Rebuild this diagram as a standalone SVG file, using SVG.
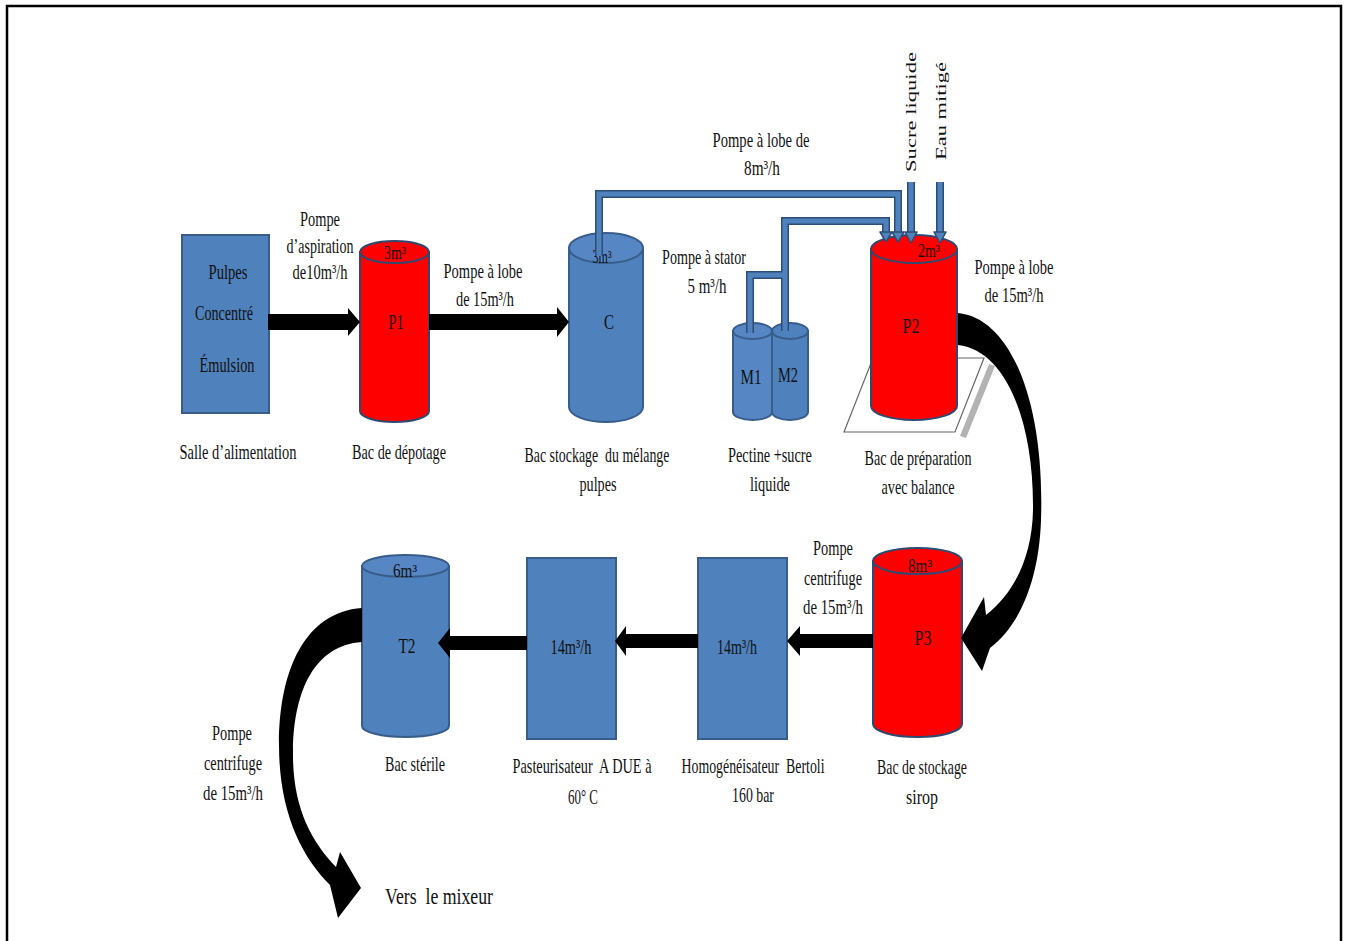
<svg xmlns="http://www.w3.org/2000/svg" width="1345" height="941" viewBox="0 0 1345 941">
<defs>
<style>
text { font-family: "Liberation Serif", "Times New Roman", serif; font-size: 21px; fill: #111; text-anchor: middle; }
.sm { font-size: 18px; }
.big { font-size: 23px; }
.blue { fill: #4f81bd; stroke: #385d8a; stroke-width: 2; }
.bluetop { fill: #5686c4; stroke: #385d8a; stroke-width: 2; }
.red { fill: #ff0000; stroke: #2e4a70; stroke-width: 2; }
.arrow { fill: #000; }
.pipe-o { fill: none; stroke: #2c4d75; stroke-width: 8; }
.pipe-i { fill: none; stroke: #4f81bd; stroke-width: 5; }
.phead { fill: #4f81bd; stroke: #2c4d75; stroke-width: 1.5; stroke-linejoin: round; }
</style>
</defs>
<rect x="0" y="0" width="1345" height="941" fill="#fff"/>
<rect x="7" y="6" width="1334" height="945" fill="none" stroke="#000" stroke-width="2.5"/>

<g id="salle">
<rect class="blue" x="182" y="235" width="87" height="178"/>
<text transform="matrix(0.65 0 0 1 228 279)" textLength="60" lengthAdjust="spacingAndGlyphs">Pulpes</text>
<text transform="matrix(0.65 0 0 1 224 320)" textLength="89.2" lengthAdjust="spacingAndGlyphs">Concentré</text>
<text transform="matrix(0.65 0 0 1 227 372)" textLength="84.6" lengthAdjust="spacingAndGlyphs">Émulsion</text>
<text transform="matrix(0.65 0 0 1 238 459)" textLength="180" lengthAdjust="spacingAndGlyphs">Salle d’alimentation</text>
</g>

<g id="P1">
<path class="red" d="M360 252 L360 411 A34.5 11 0 0 0 429 411 L429 252 Z"/>
<ellipse class="red" cx="394.5" cy="252" rx="34.5" ry="11"/>
<text class="sm" transform="matrix(0.65 0 0 1 395 259)" textLength="33.8" lengthAdjust="spacingAndGlyphs">3m³</text>
<text transform="matrix(0.65 0 0 1 396 329)" textLength="23" lengthAdjust="spacingAndGlyphs">P1</text>
<text transform="matrix(0.65 0 0 1 399 459)" textLength="144.6" lengthAdjust="spacingAndGlyphs">Bac de dépotage</text>
</g>

<g id="C">
<path class="blue" d="M569 248 L569 407 A37 15 0 0 0 643 407 L643 248 Z"/>
<ellipse class="bluetop" cx="606" cy="248" rx="37" ry="15"/>
<text class="sm" transform="matrix(0.65 0 0 1 602 263)" textLength="29.2" lengthAdjust="spacingAndGlyphs">3m³</text>
<text transform="matrix(0.65 0 0 1 609 329)" textLength="15.4" lengthAdjust="spacingAndGlyphs">C</text>
<text transform="matrix(0.65 0 0 1 597 462)" textLength="223" lengthAdjust="spacingAndGlyphs" xml:space="preserve">Bac stockage  du mélange</text>
<text transform="matrix(0.65 0 0 1 598 491)" textLength="57" lengthAdjust="spacingAndGlyphs">pulpes</text>
</g>

<g id="M2">
<path class="blue" d="M772 331 L772 412 A18 8 0 0 0 808 412 L808 331 Z"/>
<ellipse class="blue" cx="790" cy="331" rx="18" ry="8"/>
<text transform="matrix(0.65 0 0 1 788 382)" textLength="30.8" lengthAdjust="spacingAndGlyphs">M2</text>
</g>
<g id="M1">
<path class="bluetop" d="M733 331 L733 412 A19.5 8 0 0 0 772 412 L772 331 Z"/>
<ellipse class="bluetop" cx="752.5" cy="331" rx="19.5" ry="8"/>
<text transform="matrix(0.65 0 0 1 751 384)" textLength="32.3" lengthAdjust="spacingAndGlyphs">M1</text>
</g>
<g id="pectine-label">
<text transform="matrix(0.65 0 0 1 770 462)" textLength="129" lengthAdjust="spacingAndGlyphs">Pectine +sucre</text>
<text transform="matrix(0.65 0 0 1 770 491)" textLength="61.5" lengthAdjust="spacingAndGlyphs">liquide</text>
</g>

<g id="P2">
<polygon points="960,436 989,364 995,366 966,438" fill="#b3b3b3"/>
<polygon points="844,432 873,358 984,358 955,432" fill="#fff" stroke="#666" stroke-width="1.2"/>
<path class="red" d="M871 249 L871 406 A43 14 0 0 0 957 406 L957 249 Z"/>
<ellipse class="red" cx="914" cy="249" rx="43" ry="14"/>
<text class="sm" transform="matrix(0.65 0 0 1 929 257)" textLength="33.8" lengthAdjust="spacingAndGlyphs">2m³</text>
<text transform="matrix(0.65 0 0 1 911 333)" textLength="26.2" lengthAdjust="spacingAndGlyphs">P2</text>
<text transform="matrix(0.65 0 0 1 918 465)" textLength="164.6" lengthAdjust="spacingAndGlyphs">Bac de préparation</text>
<text transform="matrix(0.65 0 0 1 918 494)" textLength="112.3" lengthAdjust="spacingAndGlyphs">avec balance</text>
</g>

<g id="P3">
<path class="red" d="M873 561 L873 724 A44.5 13 0 0 0 962 724 L962 561 Z"/>
<ellipse class="red" cx="917.5" cy="561" rx="44.5" ry="13"/>
<text class="sm" transform="matrix(0.65 0 0 1 920 572)" textLength="37" lengthAdjust="spacingAndGlyphs">8m³</text>
<text transform="matrix(0.65 0 0 1 923 645)" textLength="26.2" lengthAdjust="spacingAndGlyphs">P3</text>
<text transform="matrix(0.65 0 0 1 922 774)" textLength="138.5" lengthAdjust="spacingAndGlyphs">Bac de stockage</text>
<text transform="matrix(0.65 0 0 1 922 804)" textLength="49.2" lengthAdjust="spacingAndGlyphs">sirop</text>
</g>

<g id="homogeneisateur">
<rect class="blue" x="698" y="558" width="89" height="181"/>
<text transform="matrix(0.65 0 0 1 737 654)" textLength="61.5" lengthAdjust="spacingAndGlyphs">14m³/h</text>
<text transform="matrix(0.65 0 0 1 753 773)" textLength="220" lengthAdjust="spacingAndGlyphs" xml:space="preserve">Homogénéisateur  Bertoli</text>
<text transform="matrix(0.65 0 0 1 753 802)" textLength="64.6" lengthAdjust="spacingAndGlyphs">160 bar</text>
</g>

<g id="pasteurisateur">
<rect class="blue" x="527" y="558" width="89" height="181"/>
<text transform="matrix(0.65 0 0 1 571 654)" textLength="63" lengthAdjust="spacingAndGlyphs">14m³/h</text>
<text transform="matrix(0.65 0 0 1 582 773)" textLength="213.8" lengthAdjust="spacingAndGlyphs" xml:space="preserve">Pasteurisateur  A DUE à</text>
<text transform="matrix(0.65 0 0 1 583 804)" textLength="46.2" lengthAdjust="spacingAndGlyphs">60° C</text>
</g>

<g id="T2">
<path class="blue" d="M362 566 L362 726 A43.5 11 0 0 0 449 726 L449 566 Z"/>
<ellipse class="bluetop" cx="405.5" cy="566" rx="43.5" ry="11"/>
<text class="sm" transform="matrix(0.65 0 0 1 405 577)" textLength="37" lengthAdjust="spacingAndGlyphs">6m³</text>
<text transform="matrix(0.65 0 0 1 407 653)" textLength="26.2" lengthAdjust="spacingAndGlyphs">T2</text>
<text transform="matrix(0.65 0 0 1 415 771)" textLength="92.3" lengthAdjust="spacingAndGlyphs">Bac stérile</text>
</g>

<g id="connectors">
<path class="pipe-o" d="M599 256 V194 H898 V234"/>
<path class="pipe-o" d="M785 331 V221 H886 V234"/>
<path class="pipe-o" d="M750 333 V275 H785"/>
<path class="pipe-o" d="M911 182 V234"/>
<path class="pipe-o" d="M940 182 V234"/>
<path class="pipe-i" d="M599 256 V194 H898 V234"/>
<path class="pipe-i" d="M785 331 V221 H886 V234"/>
<path class="pipe-i" d="M750 333 V275 H785"/>
<path class="pipe-i" d="M911 182 V234"/>
<path class="pipe-i" d="M940 182 V234"/>
<polygon class="phead" points="880,232 892,232 886,242"/>
<polygon class="phead" points="892,232 904,232 898,242"/>
<polygon class="phead" points="905,232 917,232 911,243"/>
<polygon class="phead" points="934,232 946,232 940,243"/>

<polygon class="arrow" points="268,314 348,314 348,308 360,322 348,336 348,330 268,330"/>
<polygon class="arrow" points="429,314 557,314 557,307 569,322 557,337 557,330 429,330"/>
<polygon class="arrow" points="873,634 800,634 800,626 787,641 800,656 800,648 873,648"/>
<polygon class="arrow" points="698,634 626,634 626,626 615,641 626,656 626,648 698,648"/>
<polygon class="arrow" points="527,636 450,636 450,628 438,643 450,658 450,650 527,650"/>

<path class="arrow" d="M958 313 C1010 318 1045 400 1041 520 C1039 580 1020 625 990 648 L982 671 L961 638 L984 597 L986 615 C1012 595 1032 560 1033 510 C1034 420 1005 350 958 345 Z"/>
<path class="arrow" d="M362 608 C305 612 279 670 279 745 C279 810 300 855 330 885 L338 918 L361 888 L340 852 L336 867 C310 840 292 805 293 750 C294 690 315 645 362 642 Z"/>
</g>

<g id="connector-labels">
<text transform="matrix(0.65 0 0 1 320 226)" textLength="61.5" lengthAdjust="spacingAndGlyphs">Pompe</text>
<text transform="matrix(0.65 0 0 1 320 253)" textLength="103" lengthAdjust="spacingAndGlyphs">d’aspiration</text>
<text transform="matrix(0.65 0 0 1 320 279)" textLength="84.6" lengthAdjust="spacingAndGlyphs">de10m³/h</text>
<text transform="matrix(0.65 0 0 1 483 278)" textLength="121.5" lengthAdjust="spacingAndGlyphs">Pompe à lobe</text>
<text transform="matrix(0.65 0 0 1 485 306)" textLength="89.2" lengthAdjust="spacingAndGlyphs">de 15m³/h</text>
<text transform="matrix(0.65 0 0 1 761 147)" textLength="149" lengthAdjust="spacingAndGlyphs">Pompe à lobe de</text>
<text transform="matrix(0.65 0 0 1 762 175)" textLength="55.4" lengthAdjust="spacingAndGlyphs">8m³/h</text>
<text transform="matrix(0.65 0 0 1 704 264)" textLength="129" lengthAdjust="spacingAndGlyphs">Pompe à stator</text>
<text transform="matrix(0.65 0 0 1 707 293)" textLength="60" lengthAdjust="spacingAndGlyphs">5 m³/h</text>
<text transform="matrix(0 -1 0.65 0 911.5 112)" x="0" y="7" textLength="120" lengthAdjust="spacingAndGlyphs">Sucre liquide</text>
<text transform="matrix(0 -1 0.65 0 941 111)" x="0" y="7" textLength="98" lengthAdjust="spacingAndGlyphs">Eau mitigé</text>
<text transform="matrix(0.65 0 0 1 1014 274)" textLength="121.5" lengthAdjust="spacingAndGlyphs">Pompe à lobe</text>
<text transform="matrix(0.65 0 0 1 1014 302)" textLength="90.8" lengthAdjust="spacingAndGlyphs">de 15m³/h</text>
<text transform="matrix(0.65 0 0 1 833 555)" textLength="61.5" lengthAdjust="spacingAndGlyphs">Pompe</text>
<text transform="matrix(0.65 0 0 1 833 585)" textLength="89.2" lengthAdjust="spacingAndGlyphs">centrifuge</text>
<text transform="matrix(0.65 0 0 1 833 614)" textLength="92.3" lengthAdjust="spacingAndGlyphs">de 15m³/h</text>
<text transform="matrix(0.65 0 0 1 232 740)" textLength="61.5" lengthAdjust="spacingAndGlyphs">Pompe</text>
<text transform="matrix(0.65 0 0 1 233 770)" textLength="89.2" lengthAdjust="spacingAndGlyphs">centrifuge</text>
<text transform="matrix(0.65 0 0 1 233 800)" textLength="92.3" lengthAdjust="spacingAndGlyphs">de 15m³/h</text>
<text class="big" transform="matrix(0.65 0 0 1 439 904)" textLength="166" lengthAdjust="spacingAndGlyphs" xml:space="preserve">Vers  le mixeur</text>
</g>
</svg>
